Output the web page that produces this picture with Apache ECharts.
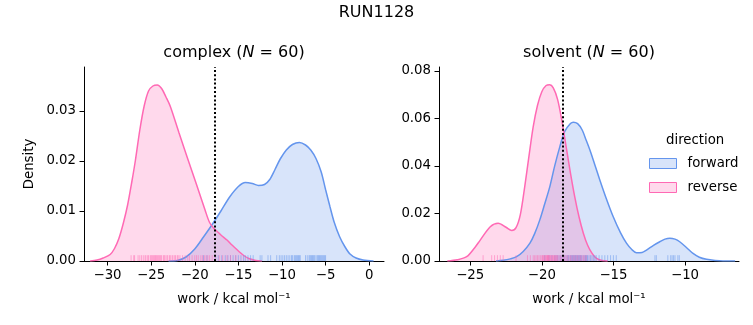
<!DOCTYPE html>
<html><head><meta charset="utf-8">
<script src="https://cdn.jsdelivr.net/npm/echarts@6/dist/echarts.min.js"></script>
<style>html,body{margin:0;padding:0;background:#fff}#c{width:753px;height:325px}</style>
</head><body><div id="c"></div>
<script>
// ---------- data ----------
const suptitle = 'RUN1128';
const seriesNames = ['forward', 'reverse'];

// complex panel: KDE curves (work, density)
const complexForwardX = [-23,-22,-21,-20,-19,-18,-17,-16,-15,-14.2,-13.4,-12.7,-12.0,-11.4,-10.8,-10.2,-9.5,-8.8,-8.0,-7.3,-6.7,-6.1,-5.5,-5.0,-4.5,-4.0,-3.4,-2.8,-2.2,-1.5,-0.7,0.5];
const complexForwardY = [0,0.0001,0.0008,0.0024,0.0048,0.0073,0.0100,0.0128,0.0149,0.0157,0.0155,0.0151,0.0153,0.0163,0.0183,0.0204,0.0222,0.0233,0.0237,0.0232,0.0222,0.0205,0.0178,0.0143,0.0109,0.0077,0.0049,0.0029,0.0014,0.0006,0.0002,0];
const complexReverseX = [-32.0,-31.2,-30.5,-29.7,-29.2,-28.7,-28.2,-27.7,-27.2,-26.8,-26.3,-25.8,-25.3,-24.8,-24.3,-23.8,-23.3,-22.8,-21.8,-20.8,-19.8,-18.8,-18.3,-17.8,-17.3,-16.8,-16.3,-15.8,-15.3,-14.8,-14.3,-13.8,-13.0,-12.3];
const complexReverseY = [0,0.0002,0.0006,0.0013,0.0025,0.0045,0.0075,0.0112,0.0160,0.0202,0.0262,0.0310,0.0340,0.0350,0.0352,0.0345,0.0328,0.0309,0.0256,0.0204,0.0153,0.0101,0.0077,0.0065,0.0057,0.0049,0.0042,0.0033,0.0025,0.0017,0.0010,0.0005,0.0001,0];

// solvent panel: KDE curves
const solventForwardX = [-23.2,-22.7,-22.2,-21.76,-21.3,-20.83,-20.5,-20.14,-19.8,-19.44,-19.1,-18.74,-18.4,-18.0,-17.8,-17.5,-17.2,-16.9,-16.6,-16.3,-15.95,-15.5,-15.02,-14.5,-14.09,-13.7,-13.39,-13.0,-12.69,-12.2,-11.76,-11.4,-11.06,-10.7,-10.37,-9.9,-9.44,-9.0,-8.5,-7.9,-7.35,-6.5];
const solventForwardY = [0,0.0003,0.0009,0.0018,0.0040,0.0075,0.0115,0.0173,0.0240,0.0313,0.0400,0.0481,0.0545,0.0578,0.0584,0.0578,0.0553,0.0508,0.0460,0.0405,0.0341,0.0263,0.0187,0.0118,0.0075,0.0047,0.0035,0.0036,0.0046,0.0066,0.0081,0.0092,0.0096,0.0092,0.0081,0.0057,0.0032,0.0016,0.0007,0.0002,0,0];
const solventReverseX = [-26.6,-25.9,-25.25,-24.7,-24.3,-23.6,-23.05,-22.5,-22.1,-21.8,-21.5,-21.2,-20.9,-20.6,-20.3,-20.0,-19.7,-19.45,-19.2,-18.9,-18.6,-18.3,-18.0,-17.7,-17.4,-17.1,-16.8,-16.5,-16.2,-15.8,-15.4];
const solventReverseY = [0,0.0005,0.0018,0.0055,0.0088,0.0144,0.0159,0.0142,0.0128,0.0140,0.0195,0.0310,0.0440,0.0565,0.0655,0.0712,0.0738,0.0741,0.0728,0.0680,0.0590,0.0480,0.0370,0.0270,0.0185,0.0117,0.0066,0.0033,0.0012,0.0002,0];

// rug (individual work values)
const complexForwardWork = [-19.0,-18.6,-17.6,-17.3,-16.9,-16.5,-16.2,-15.9,-15.6,-15.3,-15.0,-14.7,-14.4,-14.2,-13.9,-13.6,-13.3,-12.5,-12.3,-11.6,-11.3,-10.6,-10.3,-10.1,-9.9,-9.7,-9.5,-9.3,-9.1,-8.9,-8.8,-8.6,-8.5,-8.4,-8.3,-8.2,-8.1,-8.0,-7.9,-7.3,-7.1,-6.9,-6.8,-6.7,-6.6,-6.5,-6.4,-6.3,-6.2,-6.0,-5.9,-5.8,-5.7,-5.6,-5.5,-5.4,-5.3,-5.2,-5.1,-5.0];
const complexReverseWork = [-27.3,-27.0,-26.9,-26.5,-26.3,-26.1,-25.9,-25.7,-25.6,-25.4,-25.3,-25.1,-25.0,-24.9,-24.8,-24.7,-24.6,-24.5,-24.4,-24.3,-24.2,-24.1,-24.0,-23.9,-23.8,-23.6,-23.5,-23.4,-23.2,-23.1,-22.9,-22.8,-22.6,-22.5,-22.3,-22.2,-22.0,-21.9,-21.7,-21.4,-21.1,-20.8,-20.6,-20.3,-20.0,-19.8,-19.6,-19.3,-19.1,-18.9,-18.7,-18.5,-18.3,-18.0,-17.7,-17.2,-16.8,-16.3,-15.9,-15.3];
const solventForwardWork = [-19.8,-19.5,-19.3,-19.1,-19.0,-18.9,-18.8,-18.7,-18.6,-18.5,-18.4,-18.3,-18.2,-18.15,-18.1,-18.0,-17.95,-17.9,-17.85,-17.8,-17.75,-17.7,-17.65,-17.6,-17.55,-17.5,-17.45,-17.4,-17.35,-17.3,-17.25,-17.2,-17.1,-17.0,-16.95,-16.9,-16.85,-16.8,-16.7,-16.6,-16.5,-16.4,-16.3,-16.2,-16.0,-15.8,-15.6,-15.4,-15.2,-15.0,-14.8,-12.1,-12.0,-11.2,-11.0,-10.9,-10.8,-10.7,-10.5,-10.4];
const solventReverseWork = [-24.1,-23.5,-23.3,-23.1,-22.9,-22.7,-21.8,-21.0,-20.8,-20.6,-20.5,-20.4,-20.3,-20.2,-20.1,-20.0,-19.95,-19.9,-19.85,-19.8,-19.75,-19.7,-19.65,-19.6,-19.55,-19.5,-19.45,-19.4,-19.35,-19.3,-19.25,-19.2,-19.15,-19.1,-19.0,-18.95,-18.9,-18.8,-18.7,-18.6,-18.5,-18.4,-18.3,-18.2,-18.1,-18.0,-17.9,-17.8,-17.7,-17.6,-17.5,-17.4,-17.3,-17.2,-17.1,-17.0,-16.9,-19.05,-19.52,-19.62];

// vertical reference lines (dotted)
const complexVLine = -17.67;
const solventVLine = -18.53;

// ticks
const complexXTicks = [-30,-25,-20,-15,-10,-5,0];
const complexYTicks = [0,0.01,0.02,0.03];
const solventXTicks = [-25,-20,-15,-10];
const solventYTicks = [0,0.02,0.04,0.06,0.08];

// ---------- style ----------
const FONT = 'DejaVu Sans';
const FS = 13.3;
const C_F = '#6495ED', C_R = '#FF69B4';
const FILL_F = 'rgba(100,149,237,0.25)', FILL_R = 'rgba(255,105,180,0.25)';

const zip = (xs, ys) => xs.map((x, i) => [x, ys[i]]);
const minus = v => String(v).replace('-', '\u2212');

function xAxis(gi, min, max, ticks) {
  return {
    type: 'value', gridIndex: gi, min, max,
    axisLine: {show: true, onZero: false, lineStyle: {color: '#000', width: 1}},
    axisTick: {show: true, length: 4.5, lineStyle: {color: '#000', width: 1}, customValues: ticks},
    axisLabel: {customValues: ticks, formatter: v => minus(v), color: '#000', fontSize: FS, fontFamily: FONT, margin: 8},
    splitLine: {show: false},
    name: 'work / kcal mol\u207B\u00B9',
    nameLocation: 'middle', nameGap: 32,
    nameTextStyle: {color: '#000', fontSize: FS, fontFamily: FONT}
  };
}
function yAxis(gi, max, ticks, name) {
  return {
    type: 'value', gridIndex: gi, min: 0, max,
    axisLine: {show: true, onZero: false, lineStyle: {color: '#000', width: 1}},
    axisTick: {show: true, length: 4.5, lineStyle: {color: '#000', width: 1}, customValues: ticks},
    axisLabel: {customValues: ticks, formatter: v => v.toFixed(2), color: '#000', fontSize: FS, fontFamily: FONT, margin: 8},
    splitLine: {show: false},
    name: name || '', nameLocation: 'middle', nameGap: 48,
    nameTextStyle: {color: '#000', fontSize: FS, fontFamily: FONT}
  };
}
function kde(name, gi, data, color, fill, vline) {
  const s = {
    type: 'line', name, xAxisIndex: gi, yAxisIndex: gi, data,
    smooth: 0.3, showSymbol: false, symbol: 'none',
    lineStyle: {color, width: 1.5}, itemStyle: {color},
    areaStyle: {color: fill, opacity: 1}, z: 2, silent: true
  };
  if (vline !== undefined) {
    s.markLine = {silent: true, symbol: ['none', 'none'], label: {show: false},
      lineStyle: {color: '#000', type: [2, 2.2], width: 2}, data: [{xAxis: vline}], z: 10};
  }
  return s;
}
function rug(name, gi, values, color) {
  return {
    type: 'custom', name, xAxisIndex: gi, yAxisIndex: gi,
    data: values.map(v => [v, 0]), encode: {x: 0, y: 1}, silent: true, z: 3,
    renderItem: (params, api) => {
      const p = api.coord([api.value(0), 0]);
      return {type: 'line', shape: {x1: p[0], y1: p[1], x2: p[0], y2: p[1] - 5.8},
        style: {stroke: color, lineWidth: 1, opacity: 0.5}};
    }
  };
}
const titleRich = {a: {fontSize: 16, fontFamily: FONT, color: '#000'},
                   i: {fontSize: 16, fontFamily: FONT, color: '#000', fontStyle: 'italic'}};

const option = {
  animation: false,
  backgroundColor: '#fff',
  title: [
    {text: suptitle, left: 376.5, textAlign: 'center', top: 5, padding: 0,
     textStyle: {fontSize: 16, fontWeight: 'normal', fontFamily: FONT, color: '#000'}},
    {text: '{a|complex (}{i|N}{a| = 60)}', left: 234, textAlign: 'center', top: 45, padding: 0,
     textStyle: {fontSize: 16, fontWeight: 'normal', fontFamily: FONT, rich: titleRich}},
    {text: '{a|solvent (}{i|N}{a| = 60)}', left: 589, textAlign: 'center', top: 45, padding: 0,
     textStyle: {fontSize: 16, fontWeight: 'normal', fontFamily: FONT, rich: titleRich}}
  ],
  grid: [
    {left: 84, top: 67, width: 300, height: 194},
    {left: 439, top: 67, width: 300, height: 194}
  ],
  xAxis: [xAxis(0, -32.7, 1.7, complexXTicks), xAxis(1, -27.18, -6.23, solventXTicks)],
  yAxis: [yAxis(0, 0.0388, complexYTicks, 'Density'), yAxis(1, 0.0816, solventYTicks)],
  legend: {
    orient: 'vertical', left: 649, top: 157, itemWidth: 27, itemHeight: 10, itemGap: 11,
    icon: 'rect', padding: 0, selectedMode: false,
    textStyle: {fontSize: FS, fontFamily: FONT, color: '#000', padding: [0, 0, 0, 6], lineHeight: 10},
    data: [
      {name: seriesNames[0], itemStyle: {color: FILL_F, borderColor: C_F, borderWidth: 1}},
      {name: seriesNames[1], itemStyle: {color: FILL_R, borderColor: C_R, borderWidth: 1}}
    ]
  },
  graphic: [
    {type: 'text', left: 666, top: 134, style: {text: 'direction', fontSize: FS, fontFamily: FONT, fill: '#000'}}
  ],
  series: [
    kde(seriesNames[0], 0, zip(complexForwardX, complexForwardY), C_F, FILL_F),
    kde(seriesNames[1], 0, zip(complexReverseX, complexReverseY), C_R, FILL_R, complexVLine),
    rug(seriesNames[0], 0, complexForwardWork, C_F),
    rug(seriesNames[1], 0, complexReverseWork, C_R),
    kde(seriesNames[0], 1, zip(solventForwardX, solventForwardY), C_F, FILL_F),
    kde(seriesNames[1], 1, zip(solventReverseX, solventReverseY), C_R, FILL_R, solventVLine),
    rug(seriesNames[0], 1, solventForwardWork, C_F),
    rug(seriesNames[1], 1, solventReverseWork, C_R)
  ]
};
const chart = echarts.init(document.getElementById('c'), null, {renderer: 'canvas'});
chart.setOption(option);
</script>
</body></html>
